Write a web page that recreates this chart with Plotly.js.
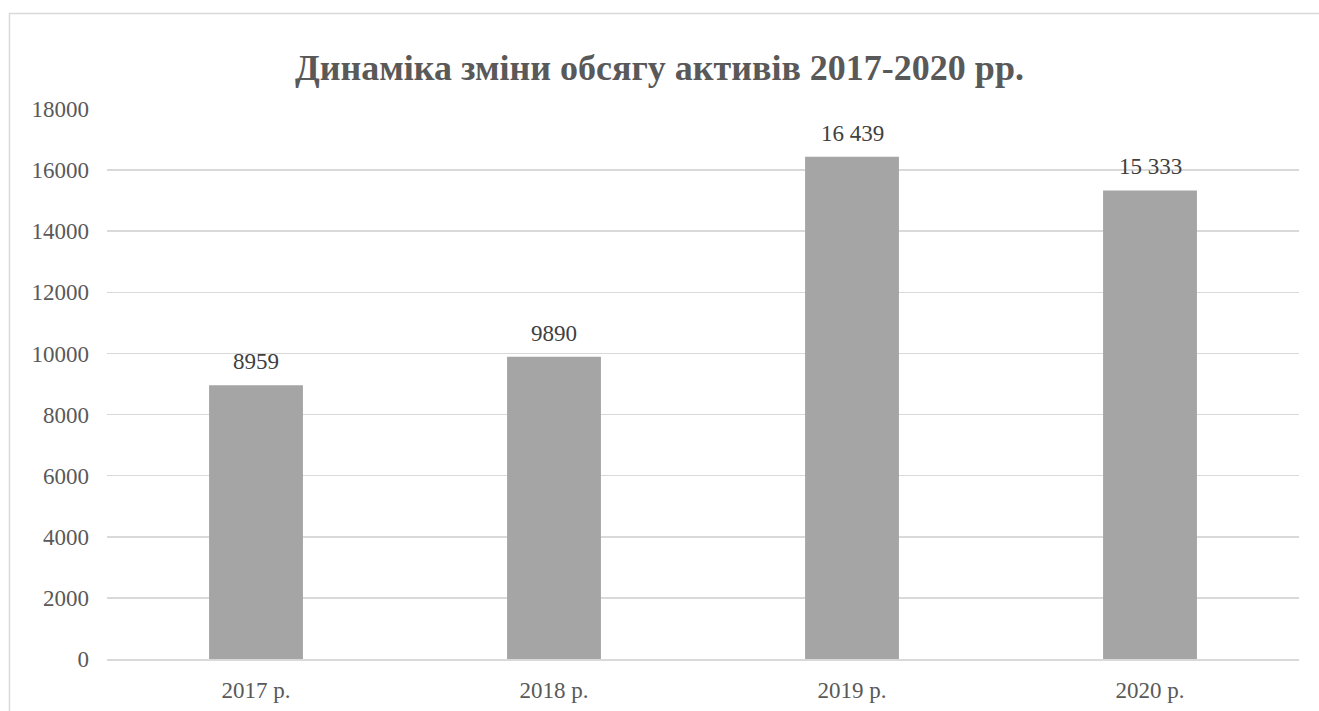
<!DOCTYPE html>
<html>
<head>
<meta charset="utf-8">
<script src="https://cdn.plot.ly/plotly-3.0.1.min.js"></script>
<style>html,body{margin:0;padding:0;background:#fff;}#chart{width:1319px;height:711px;}</style>
</head>
<body>
<div id="chart"></div>
<script>
const categories = ["2017 р.", "2018 р.", "2019 р.", "2020 р."];
const values = [8959, 9890, 16439, 15333];
const valueLabels = ["8959", "9890", "16 439", "15 333"];
const yTicks = [0, 2000, 4000, 6000, 8000, 10000, 12000, 14000, 16000, 18000];

const font = "'Liberation Serif', 'Times New Roman', serif";

const trace = {
  type: "bar",
  x: categories,
  y: values,
  marker: {color: "#A5A5A5"},
  hoverinfo: "x+y"
};

const annotations = categories.map((c, i) => ({
  x: c, y: values[i], xref: "x", yref: "y",
  text: valueLabels[i], showarrow: false,
  yanchor: "bottom", yshift: 9,
  font: {family: font, size: 23, color: "#404040"}
}));

const layout = {
  width: 1319, height: 711,
  margin: {l: 107, r: 20, t: 109, b: 52},
  paper_bgcolor: "#ffffff", plot_bgcolor: "#ffffff",
  showlegend: false,
  bargap: 0.685,
  title: {
    text: "<b>Динаміка зміни обсягу активів 2017-2020 рр.</b>",
    font: {family: font, size: 36, color: "#595959"},
    x: 0.5, xanchor: "center", y: 0.905, yanchor: "middle"
  },
  xaxis: {
    type: "category",
    tickfont: {family: font, size: 23, color: "#595959"},
    showgrid: false, showline: true, linecolor: "#D9D9D9", linewidth: 1.5,
    ticks: "", ticklabelstandoff: 10, zeroline: false
  },
  yaxis: {
    range: [0, 18000],
    tickvals: yTicks,
    ticktext: yTicks.map(String),
    tickfont: {family: font, size: 23, color: "#595959"},
    showgrid: true, gridcolor: "#D9D9D9", gridwidth: 1.5,
    zeroline: false, showline: false, ticks: "", ticklabelstandoff: 17
  },
  annotations: annotations,
  shapes: [{
    type: "rect", xref: "paper", yref: "paper",
    x0: -0.0818, x1: 1.05, y0: -0.2, y1: 1.1736,
    line: {color: "#D9D9D9", width: 1.5}, fillcolor: "rgba(0,0,0,0)", layer: "below"
  }]
};

Plotly.newPlot("chart", [trace], layout, {displayModeBar: false, staticPlot: true});
</script>
</body>
</html>
